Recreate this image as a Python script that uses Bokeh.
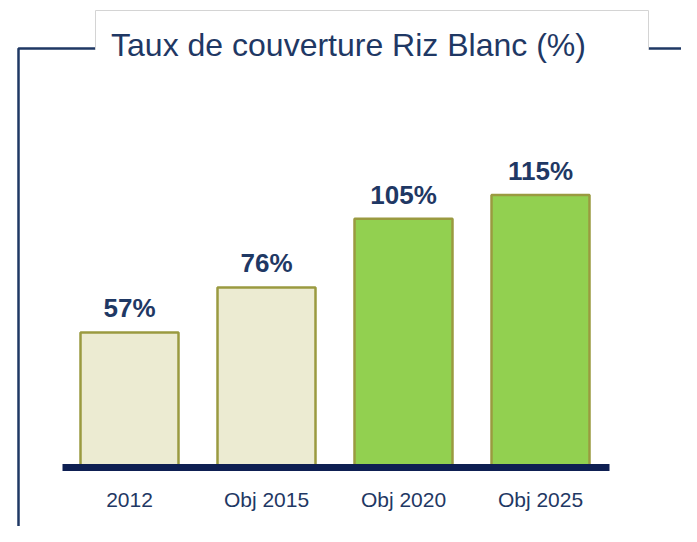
from bokeh.plotting import figure
from bokeh.models import Range1d, ColumnDataSource
from bokeh.core.properties import value
from bokeh.embed import file_html
from bokeh.resources import INLINE

categories = ["2012", "Obj 2015", "Obj 2020", "Obj 2025"]
values = [57, 76, 105, 115]
value_labels = ["57%", "76%", "105%", "115%"]
fills = ["#ecebd2", "#ecebd2", "#92d050", "#92d050"]
title_text = "Taux de couverture Riz Blanc (%)"

W, H = 681, 526
PX_PER_CAT = 137.0
PX_PER_PCT = 2.37
x0 = -129 / PX_PER_CAT
x1 = x0 + W / PX_PER_CAT
y0 = -(H - 467) / PX_PER_PCT
y1 = y0 + H / PX_PER_PCT

def X(px):
    return x0 + px / W * (x1 - x0)

def Y(py):
    return y1 - py / H * (y1 - y0)

p = figure(width=W, height=H, output_backend="svg", toolbar_location=None,
           x_range=Range1d(x0, x1), y_range=Range1d(y0, y1), min_border=0,
           background_fill_color="white", border_fill_color="white")
p.axis.visible = False
p.grid.visible = False
p.outline_line_color = None

NAVY = "#1f3864"

# frame
p.line([X(95), X(18), X(18)], [Y(48), Y(48), Y(560)], line_color=NAVY, line_width=2.5)
p.line([X(648), X(700)], [Y(48), Y(48)], line_color=NAVY, line_width=2.5)

# title box
p.quad(left=[X(95)], right=[X(648)], top=[Y(10)], bottom=[Y(50)], fill_color="white", line_color=None)
p.line([X(95), X(95), X(648), X(648)], [Y(49), Y(10), Y(10), Y(49)], line_color="#d4d4d4", line_width=1)
p.text(x=[X(348)], y=[Y(44)], text=[title_text], text_font=value("Liberation Sans"),
       text_font_size="32px", text_color=NAVY, text_align="center", text_baseline="middle")

xs = list(range(len(categories)))
src = ColumnDataSource(dict(x=xs, top=values, fill=fills, lab=value_labels, cat=categories,
                            ly=[v + 24 / PX_PER_PCT for v in values]))
p.vbar(x="x", top="top", bottom=0, width=98 / PX_PER_CAT, fill_color="fill", line_color="#9a9a40",
       line_width=2.5, source=src)
# baseline
p.line([X(62), X(609)], [0, 0], line_color="#0e1f52", line_width=7)

p.text(x="x", y="ly", text="lab", source=src, text_font=value("Liberation Sans"),
       text_font_size="26px", text_font_style="bold", text_color=NAVY,
       text_align="center", text_baseline="middle")
p.text(x="x", y=Y(499), text="cat", source=src, text_font=value("Liberation Sans"),
       text_font_size="21px", text_color=NAVY, text_align="center", text_baseline="middle")

open("out.html", "w").write(file_html(p, INLINE))
